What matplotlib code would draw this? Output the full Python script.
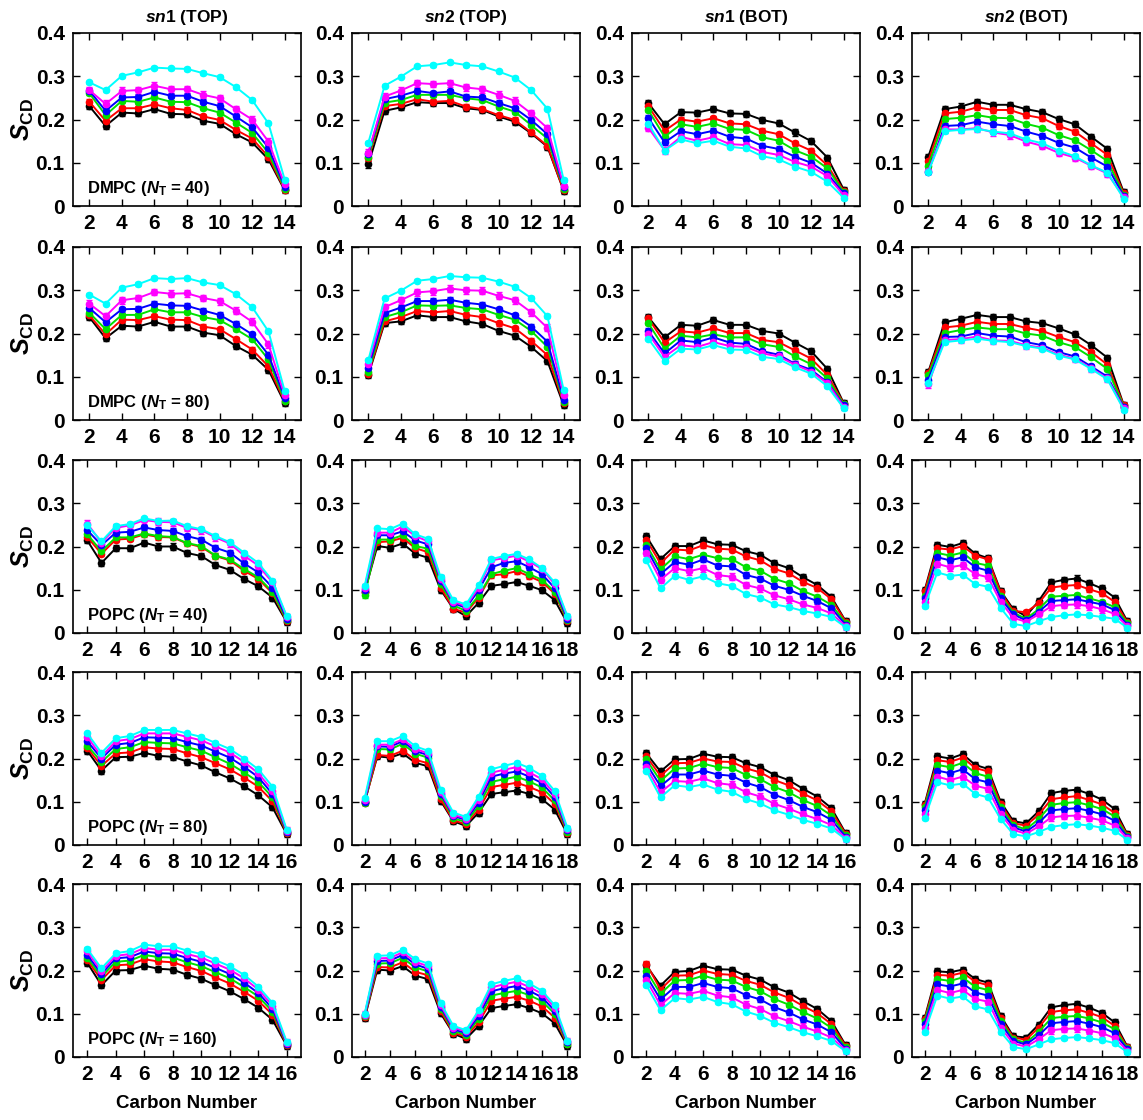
import matplotlib
matplotlib.use("Agg")
import matplotlib.pyplot as plt
import numpy as np

plt.rcParams['font.family'] = ['Liberation Sans', 'DejaVu Sans']
plt.rcParams['font.weight'] = 'bold'
plt.rcParams['mathtext.fontset'] = 'custom'
plt.rcParams['mathtext.rm'] = 'Liberation Sans:bold'
plt.rcParams['mathtext.bf'] = 'Liberation Sans:bold'
plt.rcParams['mathtext.it'] = 'Liberation Sans:italic:bold'

# series order in every panel: black, red, green, blue, magenta, cyan
colors = ['black', 'red', '#00e000', 'blue', 'magenta', 'cyan']

col_titles = [r'$sn$1 (TOP)', r'$sn$2 (TOP)', r'$sn$1 (BOT)', r'$sn$2 (BOT)']
row_labels = [r'DMPC ($N_{\mathrm{T}}$ = 40)', r'DMPC ($N_{\mathrm{T}}$ = 80)',
              r'POPC ($N_{\mathrm{T}}$ = 40)', r'POPC ($N_{\mathrm{T}}$ = 80)',
              r'POPC ($N_{\mathrm{T}}$ = 160)']

carbons_dmpc = list(range(2, 15))
carbons_popc_sn1 = list(range(2, 17))
carbons_popc_sn2 = list(range(2, 19))

# ---- DMPC, N_T = 40 ----
dmpc40_sn1_top = [
    [0.231, 0.185, 0.216, 0.214, 0.224, 0.213, 0.212, 0.197, 0.190, 0.166, 0.147, 0.108, 0.036],
    [0.241, 0.197, 0.226, 0.226, 0.235, 0.226, 0.222, 0.207, 0.199, 0.176, 0.156, 0.114, 0.038],
    [0.261, 0.210, 0.243, 0.241, 0.251, 0.241, 0.240, 0.226, 0.216, 0.193, 0.169, 0.123, 0.040],
    [0.267, 0.220, 0.251, 0.252, 0.264, 0.255, 0.255, 0.241, 0.231, 0.207, 0.182, 0.135, 0.044],
    [0.268, 0.236, 0.266, 0.268, 0.278, 0.270, 0.270, 0.257, 0.249, 0.224, 0.200, 0.149, 0.050],
    [0.286, 0.268, 0.301, 0.309, 0.320, 0.318, 0.317, 0.307, 0.298, 0.275, 0.245, 0.191, 0.061],
]
dmpc40_sn2_top = [
    [0.096, 0.220, 0.228, 0.240, 0.238, 0.238, 0.226, 0.222, 0.207, 0.195, 0.168, 0.137, 0.035],
    [0.110, 0.231, 0.236, 0.247, 0.241, 0.243, 0.230, 0.224, 0.210, 0.199, 0.170, 0.139, 0.036],
    [0.114, 0.239, 0.245, 0.257, 0.257, 0.257, 0.249, 0.245, 0.230, 0.218, 0.187, 0.156, 0.040],
    [0.121, 0.247, 0.255, 0.266, 0.261, 0.265, 0.253, 0.251, 0.238, 0.226, 0.199, 0.166, 0.043],
    [0.123, 0.253, 0.267, 0.284, 0.282, 0.284, 0.274, 0.270, 0.257, 0.243, 0.214, 0.180, 0.047],
    [0.146, 0.278, 0.299, 0.323, 0.326, 0.332, 0.326, 0.323, 0.311, 0.297, 0.268, 0.225, 0.060],
]
dmpc40_sn1_bot = [
    [0.238, 0.189, 0.217, 0.216, 0.224, 0.214, 0.213, 0.199, 0.191, 0.170, 0.150, 0.112, 0.038],
    [0.231, 0.174, 0.200, 0.195, 0.203, 0.191, 0.189, 0.174, 0.166, 0.145, 0.128, 0.094, 0.035],
    [0.222, 0.160, 0.189, 0.183, 0.191, 0.178, 0.176, 0.159, 0.151, 0.129, 0.114, 0.087, 0.032],
    [0.204, 0.147, 0.173, 0.166, 0.174, 0.160, 0.156, 0.139, 0.132, 0.114, 0.100, 0.075, 0.029],
    [0.181, 0.129, 0.160, 0.151, 0.159, 0.143, 0.141, 0.125, 0.118, 0.102, 0.091, 0.069, 0.025],
    [0.190, 0.128, 0.154, 0.145, 0.151, 0.137, 0.133, 0.115, 0.108, 0.091, 0.079, 0.056, 0.019],
]
dmpc40_sn2_bot = [
    [0.114, 0.224, 0.230, 0.241, 0.234, 0.234, 0.224, 0.217, 0.201, 0.189, 0.160, 0.132, 0.032],
    [0.104, 0.214, 0.218, 0.228, 0.222, 0.222, 0.210, 0.203, 0.185, 0.172, 0.145, 0.118, 0.029],
    [0.093, 0.201, 0.204, 0.210, 0.204, 0.203, 0.190, 0.181, 0.164, 0.152, 0.129, 0.104, 0.026],
    [0.079, 0.185, 0.187, 0.195, 0.189, 0.185, 0.172, 0.162, 0.146, 0.135, 0.112, 0.091, 0.023],
    [0.081, 0.177, 0.177, 0.180, 0.170, 0.164, 0.149, 0.139, 0.123, 0.112, 0.093, 0.075, 0.021],
    [0.079, 0.173, 0.176, 0.178, 0.172, 0.168, 0.154, 0.145, 0.128, 0.115, 0.094, 0.077, 0.017],
]

# ---- DMPC, N_T = 80 ----
dmpc80_sn1_top = [
    [0.238, 0.189, 0.218, 0.216, 0.227, 0.216, 0.216, 0.202, 0.196, 0.171, 0.151, 0.116, 0.039],
    [0.242, 0.198, 0.232, 0.231, 0.240, 0.232, 0.231, 0.216, 0.210, 0.187, 0.163, 0.124, 0.043],
    [0.248, 0.210, 0.243, 0.243, 0.256, 0.249, 0.249, 0.238, 0.231, 0.210, 0.187, 0.140, 0.045],
    [0.259, 0.226, 0.256, 0.257, 0.269, 0.265, 0.264, 0.253, 0.243, 0.222, 0.198, 0.151, 0.051],
    [0.269, 0.240, 0.277, 0.282, 0.296, 0.292, 0.293, 0.282, 0.275, 0.253, 0.227, 0.175, 0.057],
    [0.290, 0.269, 0.306, 0.314, 0.328, 0.326, 0.328, 0.318, 0.312, 0.291, 0.261, 0.205, 0.067],
]
dmpc80_sn2_top = [
    [0.104, 0.224, 0.228, 0.242, 0.238, 0.238, 0.228, 0.222, 0.206, 0.195, 0.169, 0.136, 0.034],
    [0.107, 0.228, 0.238, 0.252, 0.249, 0.252, 0.243, 0.238, 0.224, 0.212, 0.183, 0.150, 0.039],
    [0.112, 0.238, 0.249, 0.265, 0.264, 0.265, 0.259, 0.256, 0.243, 0.232, 0.206, 0.169, 0.042],
    [0.120, 0.247, 0.260, 0.275, 0.275, 0.278, 0.271, 0.267, 0.256, 0.242, 0.216, 0.181, 0.047],
    [0.130, 0.261, 0.277, 0.295, 0.298, 0.304, 0.300, 0.299, 0.287, 0.277, 0.249, 0.213, 0.057],
    [0.138, 0.281, 0.299, 0.322, 0.326, 0.333, 0.330, 0.329, 0.320, 0.308, 0.282, 0.240, 0.069],
]
dmpc80_sn1_bot = [
    [0.238, 0.191, 0.220, 0.218, 0.231, 0.220, 0.220, 0.206, 0.200, 0.179, 0.159, 0.118, 0.039],
    [0.235, 0.179, 0.205, 0.202, 0.212, 0.201, 0.201, 0.185, 0.180, 0.161, 0.142, 0.104, 0.038],
    [0.224, 0.165, 0.195, 0.191, 0.198, 0.191, 0.191, 0.175, 0.169, 0.147, 0.129, 0.096, 0.036],
    [0.206, 0.154, 0.184, 0.180, 0.191, 0.179, 0.176, 0.159, 0.151, 0.130, 0.116, 0.087, 0.034],
    [0.200, 0.146, 0.173, 0.169, 0.180, 0.171, 0.169, 0.154, 0.147, 0.128, 0.112, 0.085, 0.031],
    [0.188, 0.136, 0.165, 0.163, 0.173, 0.163, 0.162, 0.146, 0.141, 0.122, 0.107, 0.078, 0.027],
]
dmpc80_sn2_bot = [
    [0.111, 0.226, 0.234, 0.243, 0.238, 0.238, 0.228, 0.224, 0.212, 0.198, 0.173, 0.144, 0.035],
    [0.108, 0.214, 0.218, 0.227, 0.222, 0.222, 0.213, 0.206, 0.192, 0.180, 0.157, 0.128, 0.034],
    [0.103, 0.201, 0.208, 0.214, 0.210, 0.210, 0.200, 0.195, 0.180, 0.169, 0.145, 0.118, 0.031],
    [0.093, 0.192, 0.193, 0.201, 0.195, 0.193, 0.180, 0.173, 0.157, 0.147, 0.124, 0.100, 0.030],
    [0.083, 0.185, 0.187, 0.193, 0.184, 0.183, 0.173, 0.167, 0.151, 0.142, 0.120, 0.096, 0.027],
    [0.086, 0.180, 0.184, 0.188, 0.183, 0.180, 0.171, 0.165, 0.149, 0.140, 0.118, 0.094, 0.024],
]

# ---- POPC, N_T = 40 ----
popc40_sn1_top = [
    [0.214, 0.162, 0.196, 0.196, 0.209, 0.200, 0.200, 0.185, 0.178, 0.157, 0.146, 0.125, 0.108, 0.082, 0.025],
    [0.222, 0.183, 0.216, 0.218, 0.228, 0.222, 0.221, 0.207, 0.199, 0.178, 0.168, 0.144, 0.125, 0.092, 0.027],
    [0.228, 0.189, 0.221, 0.221, 0.230, 0.224, 0.222, 0.208, 0.201, 0.179, 0.170, 0.148, 0.129, 0.095, 0.030],
    [0.238, 0.203, 0.232, 0.234, 0.244, 0.238, 0.236, 0.224, 0.216, 0.197, 0.186, 0.161, 0.140, 0.105, 0.033],
    [0.253, 0.209, 0.243, 0.249, 0.261, 0.257, 0.256, 0.243, 0.238, 0.221, 0.207, 0.179, 0.156, 0.117, 0.037],
    [0.249, 0.212, 0.247, 0.252, 0.265, 0.259, 0.260, 0.247, 0.240, 0.224, 0.210, 0.186, 0.162, 0.121, 0.039],
]
popc40_sn2_top = [
    [0.095, 0.201, 0.197, 0.207, 0.183, 0.174, 0.100, 0.056, 0.039, 0.070, 0.109, 0.113, 0.118, 0.109, 0.099, 0.076, 0.023],
    [0.094, 0.210, 0.212, 0.220, 0.196, 0.187, 0.105, 0.056, 0.047, 0.082, 0.133, 0.136, 0.143, 0.131, 0.118, 0.091, 0.027],
    [0.087, 0.216, 0.216, 0.226, 0.201, 0.195, 0.113, 0.064, 0.051, 0.086, 0.136, 0.144, 0.150, 0.136, 0.123, 0.095, 0.030],
    [0.100, 0.226, 0.226, 0.235, 0.214, 0.205, 0.121, 0.069, 0.058, 0.099, 0.152, 0.162, 0.166, 0.152, 0.136, 0.104, 0.033],
    [0.105, 0.232, 0.232, 0.246, 0.224, 0.212, 0.125, 0.072, 0.062, 0.105, 0.168, 0.173, 0.179, 0.165, 0.148, 0.113, 0.037],
    [0.109, 0.242, 0.240, 0.253, 0.228, 0.218, 0.129, 0.076, 0.066, 0.111, 0.171, 0.178, 0.183, 0.170, 0.150, 0.117, 0.039],
]
popc40_sn1_bot = [
    [0.224, 0.171, 0.201, 0.201, 0.214, 0.205, 0.204, 0.189, 0.181, 0.161, 0.150, 0.129, 0.111, 0.083, 0.027],
    [0.216, 0.161, 0.193, 0.191, 0.203, 0.195, 0.193, 0.177, 0.168, 0.148, 0.138, 0.118, 0.104, 0.078, 0.026],
    [0.204, 0.147, 0.177, 0.171, 0.181, 0.173, 0.171, 0.152, 0.144, 0.125, 0.115, 0.097, 0.084, 0.065, 0.023],
    [0.196, 0.136, 0.164, 0.158, 0.170, 0.156, 0.154, 0.134, 0.126, 0.109, 0.100, 0.086, 0.074, 0.057, 0.019],
    [0.186, 0.123, 0.150, 0.143, 0.150, 0.134, 0.130, 0.111, 0.103, 0.087, 0.078, 0.066, 0.058, 0.045, 0.016],
    [0.168, 0.103, 0.132, 0.123, 0.131, 0.115, 0.109, 0.090, 0.082, 0.066, 0.060, 0.051, 0.045, 0.037, 0.013],
]
popc40_sn2_bot = [
    [0.099, 0.204, 0.199, 0.208, 0.183, 0.173, 0.097, 0.055, 0.039, 0.074, 0.117, 0.123, 0.126, 0.115, 0.103, 0.082, 0.027],
    [0.096, 0.196, 0.193, 0.201, 0.179, 0.170, 0.094, 0.051, 0.048, 0.069, 0.105, 0.109, 0.111, 0.101, 0.092, 0.072, 0.025],
    [0.086, 0.185, 0.179, 0.186, 0.162, 0.156, 0.086, 0.047, 0.033, 0.055, 0.084, 0.086, 0.088, 0.080, 0.072, 0.060, 0.023],
    [0.082, 0.175, 0.168, 0.175, 0.152, 0.144, 0.080, 0.043, 0.029, 0.049, 0.074, 0.076, 0.078, 0.072, 0.066, 0.053, 0.019],
    [0.072, 0.160, 0.152, 0.157, 0.136, 0.129, 0.072, 0.035, 0.026, 0.043, 0.062, 0.065, 0.066, 0.062, 0.055, 0.044, 0.016],
    [0.062, 0.140, 0.132, 0.135, 0.113, 0.107, 0.058, 0.021, 0.016, 0.027, 0.037, 0.041, 0.043, 0.041, 0.037, 0.033, 0.012],
]

# ---- POPC, N_T = 80 ----
popc80_sn1_top = [
    [0.218, 0.172, 0.203, 0.204, 0.213, 0.206, 0.204, 0.193, 0.184, 0.168, 0.154, 0.136, 0.115, 0.087, 0.025],
    [0.224, 0.183, 0.212, 0.214, 0.226, 0.223, 0.222, 0.212, 0.203, 0.189, 0.175, 0.156, 0.135, 0.101, 0.027],
    [0.230, 0.192, 0.222, 0.226, 0.238, 0.236, 0.235, 0.226, 0.218, 0.203, 0.188, 0.168, 0.146, 0.110, 0.029],
    [0.240, 0.200, 0.232, 0.236, 0.249, 0.248, 0.247, 0.238, 0.230, 0.216, 0.202, 0.181, 0.157, 0.118, 0.031],
    [0.250, 0.205, 0.240, 0.245, 0.258, 0.258, 0.258, 0.250, 0.242, 0.228, 0.214, 0.192, 0.166, 0.126, 0.033],
    [0.258, 0.213, 0.247, 0.252, 0.266, 0.266, 0.266, 0.258, 0.250, 0.236, 0.222, 0.200, 0.175, 0.135, 0.035],
]
popc80_sn2_top = [
    [0.100, 0.205, 0.202, 0.212, 0.190, 0.182, 0.102, 0.055, 0.044, 0.075, 0.118, 0.122, 0.126, 0.118, 0.106, 0.082, 0.025],
    [0.098, 0.208, 0.206, 0.218, 0.197, 0.189, 0.106, 0.057, 0.048, 0.082, 0.134, 0.139, 0.144, 0.134, 0.122, 0.095, 0.028],
    [0.097, 0.222, 0.221, 0.234, 0.211, 0.202, 0.114, 0.062, 0.053, 0.090, 0.146, 0.152, 0.158, 0.147, 0.133, 0.103, 0.031],
    [0.100, 0.228, 0.227, 0.240, 0.217, 0.208, 0.118, 0.067, 0.058, 0.098, 0.158, 0.165, 0.170, 0.158, 0.143, 0.111, 0.034],
    [0.104, 0.232, 0.232, 0.244, 0.222, 0.212, 0.122, 0.070, 0.061, 0.105, 0.167, 0.174, 0.180, 0.168, 0.152, 0.118, 0.037],
    [0.108, 0.240, 0.240, 0.252, 0.228, 0.218, 0.128, 0.075, 0.065, 0.112, 0.175, 0.183, 0.190, 0.178, 0.160, 0.125, 0.040],
]
popc80_sn1_bot = [
    [0.212, 0.170, 0.198, 0.199, 0.211, 0.204, 0.203, 0.189, 0.180, 0.162, 0.150, 0.130, 0.112, 0.085, 0.027],
    [0.205, 0.160, 0.189, 0.190, 0.200, 0.193, 0.192, 0.177, 0.168, 0.150, 0.138, 0.119, 0.103, 0.078, 0.025],
    [0.198, 0.148, 0.177, 0.178, 0.188, 0.180, 0.178, 0.162, 0.152, 0.134, 0.122, 0.104, 0.090, 0.068, 0.022],
    [0.188, 0.136, 0.163, 0.163, 0.172, 0.163, 0.160, 0.144, 0.134, 0.116, 0.104, 0.088, 0.076, 0.058, 0.019],
    [0.180, 0.122, 0.148, 0.146, 0.154, 0.143, 0.139, 0.122, 0.112, 0.095, 0.084, 0.071, 0.060, 0.046, 0.016],
    [0.172, 0.110, 0.138, 0.134, 0.140, 0.128, 0.123, 0.106, 0.096, 0.080, 0.070, 0.058, 0.049, 0.038, 0.013],
]
popc80_sn2_bot = [
    [0.095, 0.205, 0.200, 0.210, 0.185, 0.176, 0.100, 0.055, 0.050, 0.078, 0.120, 0.125, 0.128, 0.118, 0.105, 0.083, 0.025],
    [0.092, 0.196, 0.192, 0.202, 0.178, 0.170, 0.095, 0.050, 0.045, 0.070, 0.106, 0.110, 0.113, 0.104, 0.094, 0.074, 0.023],
    [0.088, 0.185, 0.180, 0.190, 0.166, 0.158, 0.088, 0.046, 0.036, 0.060, 0.093, 0.097, 0.099, 0.092, 0.083, 0.066, 0.021],
    [0.082, 0.172, 0.166, 0.175, 0.152, 0.145, 0.080, 0.041, 0.031, 0.051, 0.080, 0.083, 0.085, 0.079, 0.071, 0.056, 0.019],
    [0.072, 0.158, 0.150, 0.158, 0.137, 0.130, 0.071, 0.035, 0.026, 0.043, 0.064, 0.067, 0.068, 0.063, 0.057, 0.045, 0.016],
    [0.062, 0.145, 0.138, 0.142, 0.118, 0.110, 0.060, 0.025, 0.020, 0.030, 0.042, 0.046, 0.048, 0.045, 0.040, 0.033, 0.012],
]

# ---- POPC, N_T = 160 ----
popc160_sn1_top = [
    [0.218, 0.166, 0.200, 0.201, 0.211, 0.204, 0.202, 0.190, 0.181, 0.166, 0.152, 0.134, 0.114, 0.086, 0.026],
    [0.224, 0.178, 0.212, 0.214, 0.226, 0.221, 0.219, 0.208, 0.199, 0.184, 0.170, 0.151, 0.130, 0.098, 0.028],
    [0.229, 0.186, 0.220, 0.223, 0.236, 0.231, 0.230, 0.219, 0.210, 0.196, 0.182, 0.162, 0.140, 0.105, 0.030],
    [0.236, 0.192, 0.228, 0.231, 0.244, 0.240, 0.239, 0.229, 0.220, 0.206, 0.192, 0.172, 0.148, 0.112, 0.031],
    [0.244, 0.198, 0.234, 0.238, 0.252, 0.248, 0.248, 0.238, 0.230, 0.216, 0.202, 0.182, 0.156, 0.119, 0.033],
    [0.250, 0.205, 0.240, 0.245, 0.260, 0.256, 0.256, 0.246, 0.238, 0.224, 0.210, 0.190, 0.163, 0.125, 0.035],
]
popc160_sn2_top = [
    [0.090, 0.202, 0.200, 0.210, 0.188, 0.180, 0.101, 0.054, 0.042, 0.072, 0.113, 0.118, 0.122, 0.113, 0.101, 0.078, 0.026],
    [0.092, 0.208, 0.207, 0.219, 0.197, 0.189, 0.106, 0.056, 0.047, 0.080, 0.130, 0.135, 0.139, 0.130, 0.117, 0.091, 0.029],
    [0.094, 0.216, 0.217, 0.229, 0.207, 0.198, 0.112, 0.060, 0.051, 0.088, 0.142, 0.148, 0.153, 0.143, 0.129, 0.100, 0.031],
    [0.096, 0.222, 0.223, 0.236, 0.214, 0.204, 0.116, 0.064, 0.055, 0.095, 0.152, 0.159, 0.164, 0.153, 0.138, 0.107, 0.034],
    [0.098, 0.228, 0.229, 0.242, 0.220, 0.210, 0.120, 0.068, 0.059, 0.102, 0.161, 0.168, 0.174, 0.162, 0.146, 0.114, 0.036],
    [0.100, 0.234, 0.235, 0.248, 0.226, 0.216, 0.125, 0.072, 0.062, 0.108, 0.168, 0.176, 0.182, 0.170, 0.153, 0.120, 0.038],
]
popc160_sn1_bot = [
    [0.212, 0.165, 0.197, 0.199, 0.211, 0.203, 0.202, 0.188, 0.179, 0.161, 0.149, 0.129, 0.111, 0.083, 0.027],
    [0.216, 0.156, 0.188, 0.189, 0.200, 0.192, 0.190, 0.176, 0.167, 0.149, 0.137, 0.118, 0.101, 0.076, 0.025],
    [0.200, 0.146, 0.177, 0.178, 0.188, 0.179, 0.177, 0.162, 0.152, 0.134, 0.121, 0.104, 0.089, 0.067, 0.022],
    [0.188, 0.133, 0.162, 0.162, 0.171, 0.162, 0.159, 0.143, 0.133, 0.115, 0.103, 0.087, 0.075, 0.057, 0.019],
    [0.178, 0.120, 0.148, 0.146, 0.153, 0.142, 0.138, 0.121, 0.111, 0.094, 0.083, 0.070, 0.059, 0.045, 0.016],
    [0.166, 0.108, 0.136, 0.133, 0.139, 0.127, 0.122, 0.105, 0.095, 0.079, 0.069, 0.057, 0.048, 0.037, 0.013],
]
popc160_sn2_bot = [
    [0.090, 0.198, 0.196, 0.202, 0.180, 0.172, 0.095, 0.048, 0.045, 0.075, 0.115, 0.120, 0.123, 0.114, 0.102, 0.080, 0.024],
    [0.087, 0.190, 0.188, 0.195, 0.174, 0.166, 0.090, 0.045, 0.040, 0.068, 0.104, 0.108, 0.110, 0.102, 0.092, 0.072, 0.022],
    [0.083, 0.180, 0.176, 0.184, 0.162, 0.155, 0.084, 0.041, 0.033, 0.058, 0.090, 0.093, 0.095, 0.089, 0.080, 0.064, 0.020],
    [0.077, 0.168, 0.163, 0.170, 0.149, 0.142, 0.077, 0.037, 0.029, 0.050, 0.078, 0.081, 0.083, 0.077, 0.069, 0.055, 0.018],
    [0.068, 0.155, 0.148, 0.155, 0.134, 0.128, 0.068, 0.031, 0.024, 0.041, 0.062, 0.065, 0.066, 0.061, 0.055, 0.044, 0.015],
    [0.058, 0.142, 0.135, 0.140, 0.117, 0.110, 0.058, 0.023, 0.018, 0.029, 0.041, 0.044, 0.046, 0.043, 0.039, 0.032, 0.011],
]

# typical error bar half-widths per series (black..cyan)
series_err = [0.007, 0.006, 0.005, 0.006, 0.008, 0.004]

panels = [
    [dmpc40_sn1_top, dmpc40_sn2_top, dmpc40_sn1_bot, dmpc40_sn2_bot],
    [dmpc80_sn1_top, dmpc80_sn2_top, dmpc80_sn1_bot, dmpc80_sn2_bot],
    [popc40_sn1_top, popc40_sn2_top, popc40_sn1_bot, popc40_sn2_bot],
    [popc80_sn1_top, popc80_sn2_top, popc80_sn1_bot, popc80_sn2_bot],
    [popc160_sn1_top, popc160_sn2_top, popc160_sn1_bot, popc160_sn2_bot],
]

W, H = 1143, 1120
fig = plt.figure(figsize=(W / 100, H / 100), dpi=100)

lefts = [73, 352, 632, 912]
tops = [33, 247, 460, 672, 884]
pw, ph = 228, 173

for r in range(5):
    for c in range(4):
        ax = fig.add_axes([lefts[c] / W, 1 - (tops[r] + ph) / H, pw / W, ph / H])
        data = panels[r][c]
        if r < 2:
            x = carbons_dmpc
        elif c in (0, 2):
            x = carbons_popc_sn1
        else:
            x = carbons_popc_sn2
        for s in range(6):
            ax.errorbar(x, data[s], yerr=series_err[s], color=colors[s], lw=1.4,
                        marker='o', ms=4.5, capsize=2.5, elinewidth=1.0, capthick=1.0)
        ax.set_xlim(1, x[-1] + 1)
        ax.set_ylim(0, 0.4)
        ax.set_yticks([0, 0.1, 0.2, 0.3, 0.4])
        ax.set_yticklabels(['0', '0.1', '0.2', '0.3', '0.4'])
        ax.set_xticks(x[::2])
        ax.tick_params(direction='in', top=True, right=True, length=5, width=1,
                       labelsize=15, pad=6)
        for lab in ax.get_xticklabels() + ax.get_yticklabels():
            lab.set_fontweight('bold')
        for sp in ax.spines.values():
            sp.set_linewidth(1.2)
        if c == 0:
            ax.text(0.06, 0.1, row_labels[r], transform=ax.transAxes,
                    fontsize=12, fontweight='bold', va='center', ha='left')
            ax.set_ylabel(r'$S_{\mathrm{CD}}$', fontsize=18, labelpad=0)
        if r == 0:
            ax.set_title(col_titles[c], fontsize=12.5, fontweight='bold', pad=8)
        if r == 4:
            ax.set_xlabel('Carbon Number', fontsize=13.5, fontweight='bold', labelpad=8)

fig.savefig('out.png', dpi=100)
